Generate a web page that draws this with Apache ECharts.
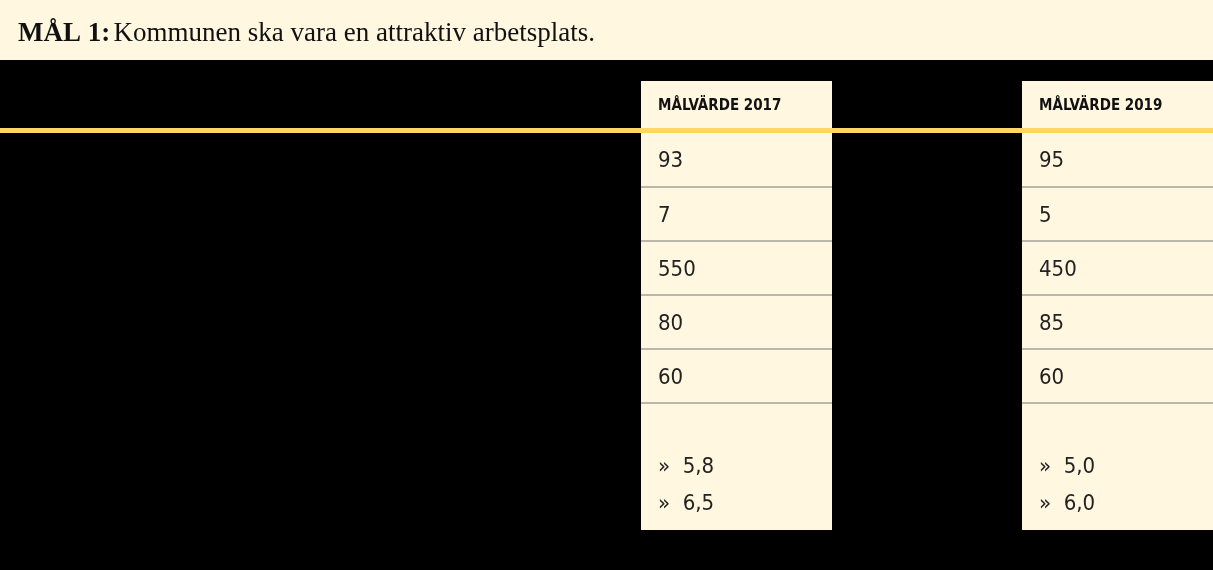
<!DOCTYPE html>
<html><head><meta charset="utf-8">
<script src="https://cdn.jsdelivr.net/npm/echarts@6/dist/echarts.min.js"></script>
<style>html,body{margin:0;padding:0;background:#000}#c{width:1213px;height:570px}</style>
</head><body><div id="c"></div>
<script>
const titleBold = "MÅL 1:";
const titleText = "Kommunen ska vara en attraktiv arbetsplats.";
const columns = ["MÅLVÄRDE 2017", "MÅLVÄRDE 2019"];
const values2017 = ["93", "7", "550", "80", "60", "»  5,8\n»  6,5"];
const values2019 = ["95", "5", "450", "85", "60", "»  5,0\n»  6,0"];

const chart = echarts.init(document.getElementById('c'));
const cream = '#FFF7E0', gold = '#FFD862';
const colX = [641, 1022], colW = 191;
const rowTops = [132, 187, 241, 295, 349, 403], rowBottom = 530;
const els = [];
els.push({type:'rect', shape:{x:0,y:0,width:1213,height:60}, style:{fill:cream}});
els.push({type:'text', x:18, y:34, style:{text:'{b|'+titleBold+'} {n|'+titleText+'}', verticalAlign:'middle',
  rich:{b:{font:'bold 27px "Liberation Serif"', fill:'#111'}, n:{font:'27px "Liberation Serif"', fill:'#111'}}}});
[values2017, values2019].forEach((vals, ci) => {
  const x = colX[ci];
  els.push({type:'rect', shape:{x:x,y:81,width:colW,height:rowBottom-81}, style:{fill:cream}});
  els.push({type:'text', x:x+17, y:106, style:{text:columns[ci], font:'bold 15px "DejaVu Sans Condensed"', fill:'#111', verticalAlign:'middle'}});
  vals.forEach((v, ri) => {
    const top = rowTops[ri], bot = ri < vals.length-1 ? rowTops[ri+1] : rowBottom;
    if (ri > 0) els.push({type:'line', shape:{x1:x,y1:top,x2:x+colW,y2:top}, style:{stroke:'#777',lineWidth:1}});
    const multi = v.indexOf('\n') >= 0;
    els.push({type:'text', x:x+17, y: multi ? 486 : (top+bot)/2+2, style:{text:v, font:'22px "DejaVu Sans Condensed"', fill:'#222', verticalAlign:'middle', lineHeight:37}});
  });
});
els.push({type:'rect', shape:{x:0,y:128,width:1213,height:5}, style:{fill:gold}});
chart.setOption({backgroundColor:'#000', animation:false, graphic:els});
</script></body></html>
